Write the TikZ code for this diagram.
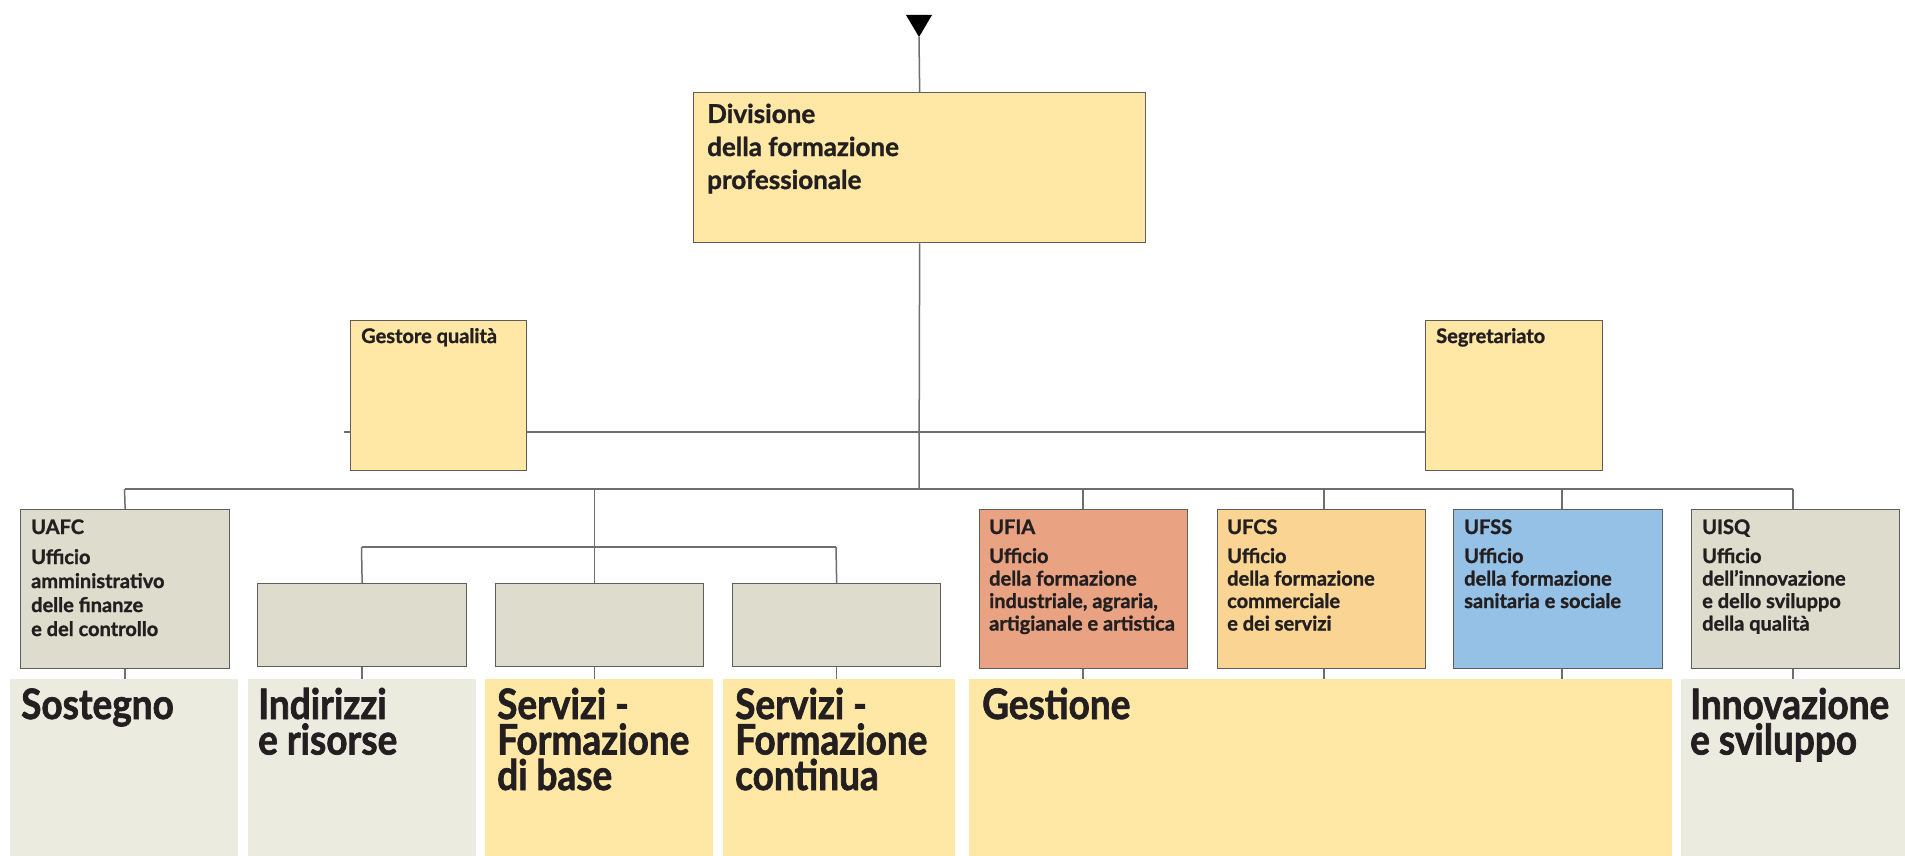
\documentclass[tikz,border=0pt]{standalone}
\usepackage{fontspec}
\setmainfont{Lato}[BoldFeatures={FakeBold=1.3}]
\newfontfamily\condfont{Lato}[FakeStretch=0.88,BoldFeatures={FakeBold=1.6}]
\definecolor{byellow}{HTML}{FFE8A5}
\definecolor{bgray}{HTML}{DEDCCC}
\definecolor{pgray}{HTML}{ECEBDF}
\definecolor{cfia}{HTML}{E9A383}
\definecolor{cfcs}{HTML}{F9D492}
\definecolor{cfss}{HTML}{96C1E7}
\definecolor{bline}{HTML}{5E5E5E}
\definecolor{cline}{HTML}{6E6E6E}
\definecolor{txt}{HTML}{231F20}
\newcommand\Lines[2]{\vtop{\baselineskip=#1pt\lineskiplimit=-1000pt\relax #2}}
\begin{document}
\begin{tikzpicture}[x=1pt,y=-1pt,
  box/.style={rectangle, draw=bline, line width=1.3pt, anchor=north west, inner sep=0pt, minimum height=159pt},
  panel/.style={rectangle, draw=none, anchor=north west, inner sep=0pt, minimum height=177pt},
  conn/.style={draw=cline, line width=1.5pt},
  lbl/.style={anchor=base west, inner sep=0pt, text=txt, font=\fontsize{20}{23}\selectfont\bfseries},
  big/.style={anchor=base west, inner sep=0pt, text=txt, font=\condfont\fontsize{42}{36}\selectfont\bfseries},
  top/.style={anchor=base west, inner sep=0pt, text=txt, font=\fontsize{26}{33}\selectfont\bfseries}]
\useasboundingbox (0,0) rectangle (1905,856);
\fill[white] (0,0) rectangle (1905,856);

% background line behind staff boxes
\coordinate (gl) at (344,432);
\coordinate (gr) at (1590,432);
\draw[conn] (gl) -- (gr);

% main box
\node[box, fill=byellow, minimum width=452pt, minimum height=150pt] (main) at (693,92) {};
\node[top] (maint) at (707,123) {\Lines{33}{\hbox{Divisione}\hbox{della formazione}\hbox{professionale}}};
\coordinate (tip) at (919,37);
\fill[black] (906,15) -- (932,15) -- (tip) -- cycle;
\draw[conn] (tip) -- (main.north);

% staff
\node[box, fill=byellow, minimum width=176pt, minimum height=150pt] (gq) at (350,320) {};
\node[lbl] (gqt) at (361,343) {Gestore qualità};
\node[box, fill=byellow, minimum width=177pt, minimum height=150pt] (segr) at (1425,320) {};
\node[lbl] (segrt) at (1436,343) {Segretariato};

% offices
\node[box, fill=bgray, minimum width=209pt] (uafc) at (20,509) {};
\node[lbl] (uafct) at (31,534) {\Lines{24}{\hbox{UAFC}\vskip6pt\hbox{Ufficio}\hbox{amministrativo}\hbox{delle finanze}\hbox{e del controllo}}};
\node[box, fill=bgray, minimum width=209pt, minimum height=83pt] (sub1) at (257,583) {};
\node[box, fill=bgray, minimum width=208pt, minimum height=83pt] (sub2) at (495,583) {};
\node[box, fill=bgray, minimum width=208pt, minimum height=83pt] (sub3) at (732,583) {};
\node[box, fill=cfia, minimum width=208pt] (ufia) at (979,509) {};
\node[lbl] (ufiat) at (989,534) {\Lines{22.5}{\hbox{UFIA}\vskip6.5pt\hbox{Ufficio}\hbox{della formazione}\hbox{industriale, agraria,}\hbox{artigianale e artistica}}};
\node[box, fill=cfcs, minimum width=208pt] (ufcs) at (1217,509) {};
\node[lbl] (ufcst) at (1227,534) {\Lines{22.5}{\hbox{UFCS}\vskip6.5pt\hbox{Ufficio}\hbox{della formazione}\hbox{commerciale}\hbox{e dei servizi}}};
\node[box, fill=cfss, minimum width=209pt] (ufss) at (1453,509) {};
\node[lbl] (ufsst) at (1464,534) {\Lines{22.5}{\hbox{UFSS}\vskip6.5pt\hbox{Ufficio}\hbox{della formazione}\hbox{sanitaria e sociale}}};
\node[box, fill=bgray, minimum width=208pt] (uisq) at (1691,509) {};
\node[lbl] (uisqt) at (1702,534) {\Lines{22.5}{\hbox{UISQ}\vskip6.5pt\hbox{Ufficio}\hbox{dell’innovazione}\hbox{e dello sviluppo}\hbox{della qualità}}};

% panels
\node[panel, fill=pgray, minimum width=228pt] (sost) at (10,679) {};
\node[panel, fill=pgray, minimum width=228pt] (indir) at (248,679) {};
\node[panel, fill=byellow, minimum width=228pt] (fdb) at (485,679) {};
\node[panel, fill=byellow, minimum width=232pt] (cont) at (723,679) {};
\node[panel, fill=byellow, minimum width=703pt] (gest) at (969,679) {};
\node[panel, fill=pgray, minimum width=224pt] (innov) at (1681,679) {};
\node[big] (sostt) at (21,719) {Sostegno};
\node[big] (indirt) at (258,719) {\Lines{35.5}{\hbox{Indirizzi}\hbox{e risorse}}};
\node[big] (fdbt) at (497,719) {\Lines{35.5}{\hbox{Servizi -}\hbox{Formazione}\hbox{di base}}};
\node[big] (contt) at (735,719) {\Lines{35.5}{\hbox{Servizi -}\hbox{Formazione}\hbox{continua}}};
\node[big] (gestt) at (982,719) {Gestione};
\node[big] (innovt) at (1690,719) {\Lines{35.5}{\hbox{Innovazione}\hbox{e sviluppo}}};

% connectors
\coordinate (hub) at (919,489);
\coordinate (busL) at (124.5,489);
\coordinate (busR) at (1793,489);
\coordinate (dsb) at (594.5,489);
\coordinate (sbL) at (361.5,547);
\coordinate (sbR) at (836,547);
\coordinate (dfia) at (1083,489);
\coordinate (dfcs) at (1324,489);
\coordinate (dfss) at (1562,489);
\coordinate (disq) at (1793,489);
\draw[conn] (main.south) -- (hub);
\draw[conn] (busL) -- (busR);
\draw[conn] (busL) -- (uafc.north);
\draw[conn] (dsb) -- (dsb |- sub2.north);
\draw[conn] (sbL) -- (sbR);
\draw[conn] (sbL) -- (sub1.north);
\draw[conn] (sbR) -- (sub3.north);
\draw[conn] (dfia) -- (dfia |- ufia.north);
\draw[conn] (dfcs) -- (dfcs |- ufcs.north);
\draw[conn] (dfss) -- (dfss |- ufss.north);
\draw[conn] (disq) -- (disq |- uisq.north);
\draw[conn] (uafc.south) -- (uafc.south |- sost.north);
\draw[conn] (sub1.south) -- (sub1.south |- indir.north);
\draw[conn] (dsb |- sub2.south) -- (dsb |- fdb.north);
\draw[conn] (sub3.south) -- (sub3.south |- cont.north);
\draw[conn] (dfia |- ufia.south) -- (dfia |- gest.north);
\draw[conn] (dfcs |- ufcs.south) -- (dfcs |- gest.north);
\draw[conn] (dfss |- ufss.south) -- (dfss |- gest.north);
\draw[conn] (disq |- uisq.south) -- (disq |- innov.north);
\end{tikzpicture}
\end{document}
